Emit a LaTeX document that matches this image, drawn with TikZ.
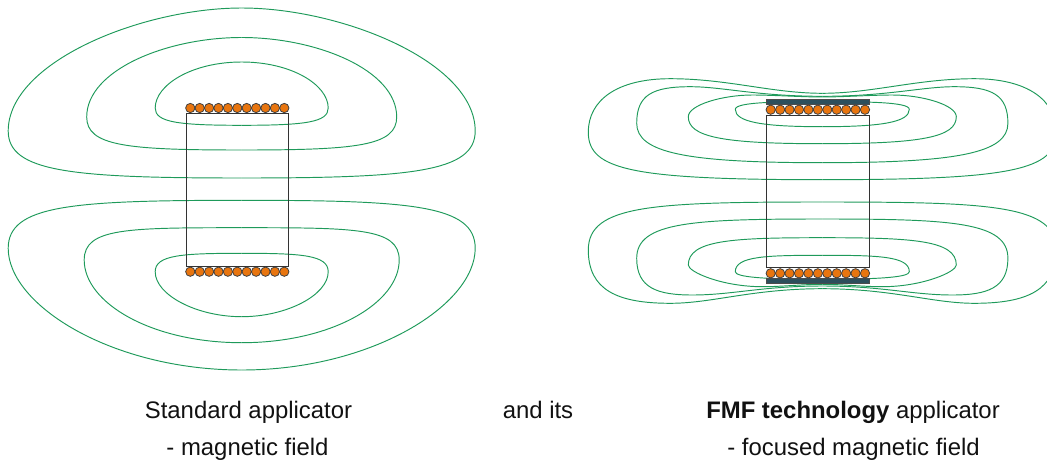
\documentclass[tikz,border=0pt]{standalone}
\usepackage{fontspec}
\setmainfont{Liberation Sans}
\definecolor{fieldgreen}{HTML}{1E9A5A}
\definecolor{coilorange}{HTML}{E8750F}
\definecolor{barcol}{HTML}{2C4F5C}
\definecolor{captioncol}{HTML}{111111}
\tikzset{
  field/.style={draw=fieldgreen,line width=0.95pt},
  frame/.style={draw=black!80,line width=1pt},
  coil/.style={circle,draw=black!75,fill=coilorange,line width=0.8pt,minimum size=9.3pt,inner sep=0pt},
  shield/.style={draw=black!70,fill=barcol,line width=0.6pt},
  caption/.style={anchor=base,inner sep=0pt,text=captioncol,font=\fontsize{23.9}{26}\selectfont}
}
\begin{document}
\begin{tikzpicture}[x=1pt,y=-1pt]
\useasboundingbox (0,0) rectangle (1047,461);
\clip (0,0) rectangle (1047,461);
% left applicator field
\foreach \s in {1,-1}{
\begin{scope}[shift={(241.7,0)},xscale=\s]
\draw[field] (0,8) .. controls (100,8) and (233.5,62) .. (233.5,131) .. controls (233.5,172) and (170,178) .. (0,178);
\draw[field] (0,37.5) .. controls (75,37.5) and (155,70) .. (155,117) .. controls (155,146) and (115,150) .. (0,150);
\draw[field] (0,62) .. controls (50,62) and (86.5,85) .. (86.5,108) .. controls (86.5,122) and (65,125.3) .. (0,125.3);
\draw[field] (0,200.3) .. controls (170,200.3) and (233.5,205) .. (233.5,248.3) .. controls (233.5,305) and (130,370) .. (0,370);
\draw[field] (0,227.7) .. controls (115,227.7) and (157.5,228) .. (157.5,260) .. controls (157.5,303) and (90,342.7) .. (0,342.7);
\draw[field] (0,253.3) .. controls (60,253.3) and (86.5,255) .. (86.5,271.7) .. controls (86.5,295) and (45,316.7) .. (0,316.7);
\end{scope}}
\draw[frame] (186,113.3) rectangle (288.7,266.7);
\foreach \i in {0,...,10}{
  \node[coil] (lt\i) at ({190.3+9.4*\i},108) {};
  \node[coil] (lb\i) at ({190.3+9.4*\i},271.7) {};
}
% right applicator
\foreach \s in {1,-1}{
\begin{scope}[shift={(822.3,0)},xscale=\s]
\draw[field] (0,93.3) .. controls (50,93.3) and (95,78.7) .. (152,78.7) .. controls (205,78.7) and (234,100) .. (234,132.3) .. controls (234,170) and (190,179.7) .. (0,179.7);
\draw[field] (0,96.3) .. controls (65,96.3) and (100,86.7) .. (132,86.7) .. controls (170,86.7) and (185.6,95) .. (185.6,123.3) .. controls (185.6,153) and (135,162.7) .. (0,162.7);
\draw[field] (0,97) .. controls (20,97) and (50,95) .. (70,95) .. controls (100,95) and (134,105) .. (134,116.7) .. controls (134,137) and (100,143.7) .. (0,143.7);
\draw[field] (0,101.7) .. controls (40,101.7) and (87,101.7) .. (87,109.3) .. controls (87,122) and (60,126.7) .. (0,126.7);
\draw[field] (0,202) .. controls (170,202) and (234,205) .. (234,250) .. controls (234,290) and (205,303.3) .. (152,303.3) .. controls (110,303.3) and (70,288.7) .. (0,288.7);
\draw[field] (0,219) .. controls (130,219) and (185.6,222) .. (185.6,258.3) .. controls (185.6,288) and (165,295) .. (130,295) .. controls (90,295) and (60,286) .. (0,286);
\draw[field] (0,237.7) .. controls (90,237.7) and (134,240) .. (134,265) .. controls (134,272) and (100,286.7) .. (60,286.7) .. controls (40,286.7) and (20,284.3) .. (0,284.3);
\draw[field] (0,255.3) .. controls (55,255.3) and (87,256) .. (87,271.7) .. controls (87,277) and (60,279.3) .. (0,279.3);
\end{scope}}
\draw[shield] (766.3,99.2) rectangle (869,103.9);
\draw[shield] (766.3,278) rectangle (869,282.8);
\draw[frame] (766.3,115) rectangle (869,267.7);
\foreach \i in {0,...,10}{
  \node[coil] (rt\i) at ({770.7+9.43*\i},109.7) {};
  \node[coil] (rb\i) at ({770.7+9.43*\i},273.3) {};
}
% captions
\node[caption] (c1) at (248.5,418.5) {Standard applicator};
\node[caption] (c2) at (247.5,455) {- magnetic field};
\node[caption] (c3) at (538,418.5) {and its};
\node[caption] (c4) at (853,418.5) {\textbf{FMF technology} applicator};
\node[caption] (c5) at (853.5,455) {- focused magnetic field};
\end{tikzpicture}
\end{document}
